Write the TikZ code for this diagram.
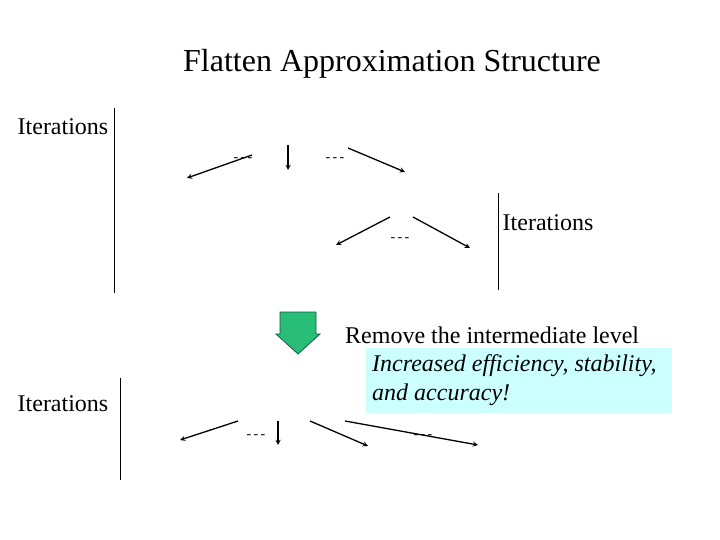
\documentclass[tikz,border=0pt]{standalone}
\usepackage{fontspec}
\setmainfont{Liberation Serif}
\usepackage{amsmath}
\usepackage{graphicx}
\begin{document}
\begin{tikzpicture}[x=1pt,y=-1pt,
  m/.style={inner sep=0pt,execute at begin node=\scalebox{2.7}\bgroup,execute at end node=\egroup},
  t/.style={font=\fontsize{24}{27}\selectfont,inner sep=0pt},
  ar/.style={-stealth,line width=1.3pt},
  dd/.style={font=\fontsize{14}{14}\selectfont,inner sep=0pt}]
\useasboundingbox (0,0) rectangle (720,540);
\node[font=\fontsize{32}{34}\selectfont] (title) at (392,64) {Flatten Approximation Structure};
\node[t] (it1) at (63,127) {Iterations};
\node[t] (it2) at (548,223) {Iterations};
\node[t] (it3) at (63,404) {Iterations};
\draw[line width=0.8pt] (114,108) coordinate (l1a) -- (114,293) coordinate (l1b);
\draw[line width=0.8pt] (498,193) coordinate (l2a) -- (498,290) coordinate (l2b);
\draw[line width=0.8pt] (120,378) coordinate (l3a) -- (120,480) coordinate (l3b);
% upper tree
\node[m] (q) at (298,118) {$q(\mathbf{w})$};
\node[m] (g1) at (175,188) {$\tilde g_1(\mathbf{w})$};
\node[m] (gk) at (295,188) {$\tilde g_k(\mathbf{w})$};
\node[m] (Z) at (440,188) {$\tilde Z(\mathbf{w})$};
\node[m] (f1) at (320,274) {$\tilde f_1(\mathbf{w})$};
\node[m] (fk) at (455,274) {$\tilde f_k(\mathbf{w})$};
\draw[ar] (252,155) coordinate (a1) -- (187,178) coordinate (b1);
\draw[ar] (288,145) coordinate (a2) -- (288,170) coordinate (b2);
\draw[ar] (348,148) coordinate (a3) -- (405,172) coordinate (b3);
\draw[ar] (390,217) coordinate (a4) -- (336,245) coordinate (b4);
\draw[ar] (413,217) coordinate (a5) -- (470,248) coordinate (b5);
\node[dd] (d1) at (243,160) {-\,-\,-};
\node[dd] (d2) at (335,160) {-\,-\,-};
\node[dd] (d3) at (400,240) {-\,-\,-};
% green arrow
\draw[fill={rgb,255:red,40;green,190;blue,120},draw={rgb,255:red,20;green,90;blue,60},line width=0.8pt]
  (280,312) -- (316,312) -- (316,334) -- (320,334) -- (298,354) -- (276,334) -- (280,334) -- cycle;
\node[t,anchor=west] (rm) at (345,335) {Remove the intermediate level};
\node[fill={rgb,255:red,204;green,255;blue,255},minimum width=306pt,minimum height=65pt,anchor=north west,inner sep=0pt] (box) at (366,348) {};
\node[t,anchor=north west,align=left,font=\fontsize{24}{29}\selectfont\itshape] (bt) at (372,354) {Increased efficiency, stability,\\and accuracy!};
% lower tree
\node[m] (q2) at (298,393) {$q(\mathbf{w})$};
\node[m] (h1) at (175,467) {$\tilde g_k(\mathbf{w})$};
\node[m] (h2) at (295,467) {$\tilde g_k(\mathbf{w})$};
\node[m] (h3) at (400,467) {$\tilde f_1(\mathbf{w})$};
\node[m] (h4) at (530,467) {$\tilde f_k(\mathbf{w})$};
\draw[ar] (238,421) coordinate (c1) -- (180,440) coordinate (e1);
\draw[ar] (278,421) coordinate (c2) -- (278,445) coordinate (e2);
\draw[ar] (310,421) coordinate (c3) -- (368,446) coordinate (e3);
\draw[ar] (345,421) coordinate (c4) -- (478,445) coordinate (e4);
\node[dd] (d4) at (256,437) {-\,-\,-};
\node[dd] (d5) at (423,437) {-\,-\,-};
\end{tikzpicture}
\end{document}
